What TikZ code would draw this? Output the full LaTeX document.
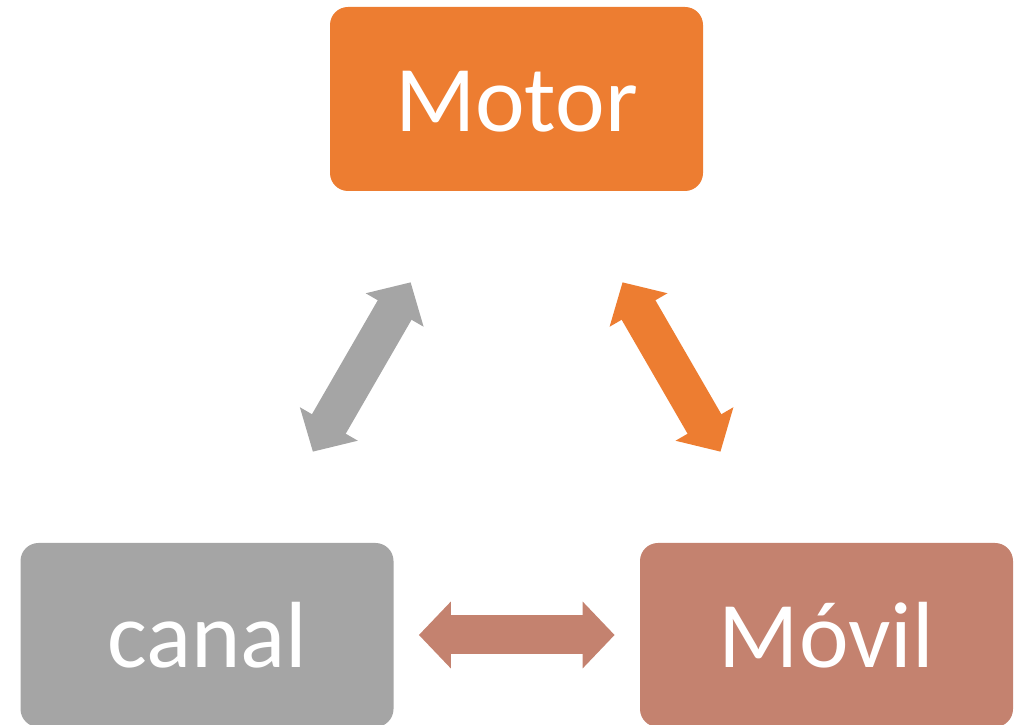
\documentclass[tikz,border=0pt]{standalone}
\usepackage{fontspec}
\setmainfont{Carlito}
\usetikzlibrary{calc,arrows.meta}
\definecolor{cOrange}{HTML}{ED7D31}
\definecolor{cGray}{HTML}{A5A5A5}
\definecolor{cBrown}{HTML}{C4826F}
\tikzset{
  box/.style={rectangle, rounded corners=18pt, minimum width=373pt, minimum height=184pt,
    inner sep=0pt, text=white, text height=66pt, text depth=0pt,
    font=\fontsize{94}{100}\selectfont},
  dblarrow/.style={line width=39pt,
    {Triangle[width=65pt,length=32pt]}-{Triangle[width=65pt,length=32pt]}}
}
\begin{document}
\begin{tikzpicture}[x=1pt,y=1pt]
  \useasboundingbox (0,0) rectangle (1023,725);
  \clip (0,0) rectangle (1023,725);
  \node[box, fill=cOrange] (motor) at (516.5,626) {Motor};
  \node[box, fill=cGray] (canal) at (207,90) {canal};
  \node[box, fill=cBrown] (movil) at (826.5,90) {Móvil};
  \draw[dblarrow, cGray] ($(canal.center)!0.342!(motor.center)$) -- ($(canal.center)!0.658!(motor.center)$);
  \draw[dblarrow, cOrange] ($(motor.center)!0.342!(movil.center)$) -- ($(motor.center)!0.658!(movil.center)$);
  \draw[dblarrow, cBrown] ($(canal.center)!0.342!(movil.center)$) -- ($(canal.center)!0.658!(movil.center)$);
\end{tikzpicture}
\end{document}
